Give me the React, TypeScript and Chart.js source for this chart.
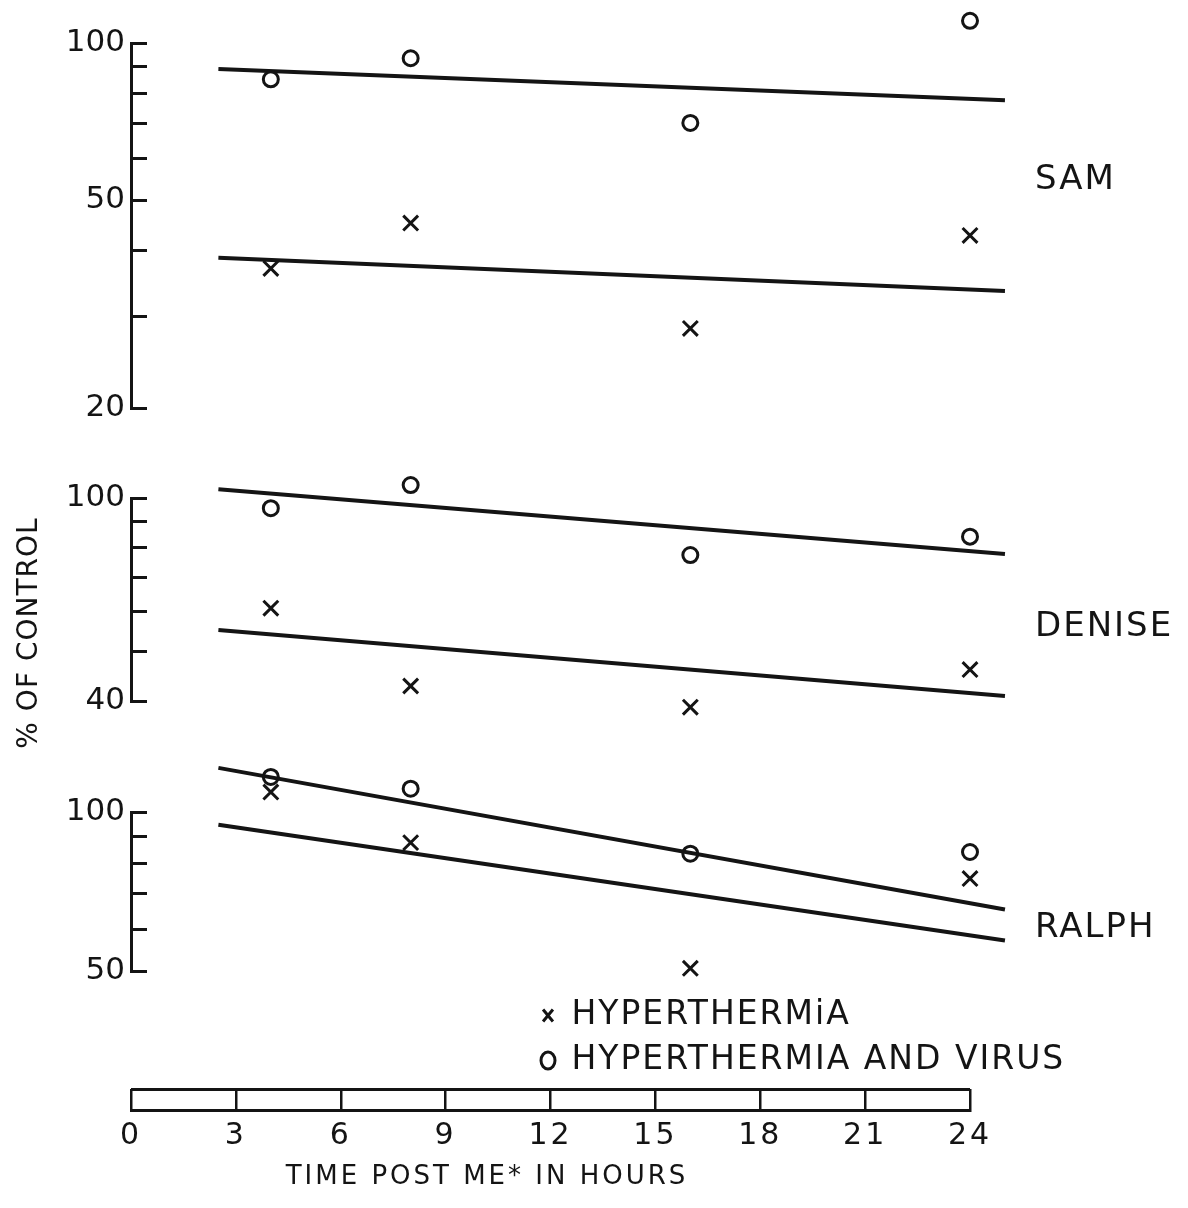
import React, { useEffect, useRef } from 'react';
import { Chart, registerables } from 'chart.js';

Chart.register(...registerables);

// ---------------- data ----------------
const TIMES = [4, 8, 16, 24]; // hours post ME
const FIT_TIMES = [2.5, 25]; // end points of the fitted lines

const SAM_VIRUS = [85.2, 93.5, 70.3, 110.3];
const SAM_HYPER = [37.0, 45.2, 28.4, 42.8];
const SAM_VIRUS_FIT = [89.2, 77.7];
const SAM_HYPER_FIT = [38.8, 33.5];

const DENISE_VIRUS = [95.5, 106.0, 77.3, 84.0];
const DENISE_HYPER = [60.8, 42.8, 38.9, 46.1];
const DENISE_VIRUS_FIT = [104.0, 77.7];
const DENISE_HYPER_FIT = [55.1, 40.9];

const RALPH_VIRUS = [116.5, 110.7, 83.4, 84.0];
const RALPH_HYPER = [109.1, 87.5, 50.6, 74.8];
const RALPH_VIRUS_FIT = [121.2, 65.4];
const RALPH_HYPER_FIT = [94.6, 57.1];

const SAM_TICKS = [20, 30, 40, 50, 60, 70, 80, 90, 100];
const SAM_LABELS = [20, 50, 100];
const DENISE_TICKS = [40, 50, 60, 70, 80, 90, 100];
const DENISE_LABELS = [40, 100];
const RALPH_TICKS = [50, 60, 70, 80, 90, 100];
const RALPH_LABELS = [50, 100];
const X_TICKS = [0, 3, 6, 9, 12, 15, 18, 21, 24];

const PANEL_NAMES = ['SAM', 'DENISE', 'RALPH'];
const SERIES_LABELS = ['HYPERTHERMiA', 'HYPERTHERMIA AND VIRUS'];
const Y_TITLE = '% OF CONTROL';
const X_TITLE = 'TIME POST ME* IN HOURS';

// ---------------- styling / layout ----------------
const INK = '#141414';
const FONT = 'DejaVu Sans';
const PAGE_W = 1188;
const X_LEFT = 131;
const X_RIGHT = 970;

const PANELS = [
  { virus: SAM_VIRUS, hyper: SAM_HYPER, virusFit: SAM_VIRUS_FIT, hyperFit: SAM_HYPER_FIT, ticks: SAM_TICKS, labels: SAM_LABELS },
  { virus: DENISE_VIRUS, hyper: DENISE_HYPER, virusFit: DENISE_VIRUS_FIT, hyperFit: DENISE_HYPER_FIT, ticks: DENISE_TICKS, labels: DENISE_LABELS },
  { virus: RALPH_VIRUS, hyper: RALPH_HYPER, virusFit: RALPH_VIRUS_FIT, hyperFit: RALPH_HYPER_FIT, ticks: RALPH_TICKS, labels: RALPH_LABELS },
];

const PANEL_LAYOUT = [
  { top: 43, bottom: 408, canvasTop: 0, canvasHeight: 440, nameAt: 0.625 },
  { top: 498, bottom: 701, canvasTop: 450, canvasHeight: 290, nameAt: 0.365 },
  { top: 812, bottom: 971, canvasTop: 740, canvasHeight: 250, nameAt: 0.27 },
];

const pts = (xs: number[], ys: number[]) => xs.map((x, i) => ({ x, y: ys[i] }));

function zeroPad(s: any) {
  s.paddingLeft = 0;
  s.paddingRight = 0;
  s.paddingTop = 0;
  s.paddingBottom = 0;
}

// wide-set lettering of the original: set before layout so measurements include it
const spacing = (px: number) => ({
  id: 'letterSpacing' + px,
  beforeUpdate(chart: any) {
    try {
      chart.ctx.letterSpacing = px + 'px';
    } catch (e) {
      /* ignore */
    }
  },
  beforeDraw(chart: any) {
    try {
      chart.ctx.letterSpacing = px + 'px';
    } catch (e) {
      /* ignore */
    }
  },
});

const base = {
  animation: false,
  responsive: false,
  events: [] as string[],
};

function panelDataConfig(i: number) {
  const L = PANEL_LAYOUT[i];
  const P = PANELS[i];
  const minV = Math.min(...P.ticks);
  const maxV = Math.max(...P.ticks);
  return {
    type: 'scatter',
    data: {
      datasets: [
        {
          label: SERIES_LABELS[1],
          data: pts(TIMES, P.virus),
          pointStyle: 'circle',
          pointRadius: 7.5,
          pointHoverRadius: 45, // lets marks above the 100 tick (outside the axis range) still be drawn
          borderWidth: 3,
          borderColor: INK,
          backgroundColor: 'rgba(0,0,0,0)',
          clip: false,
        },
        {
          label: SERIES_LABELS[0],
          data: pts(TIMES, P.hyper),
          pointStyle: 'crossRot',
          pointRadius: 10.5,
          pointHoverRadius: 45,
          borderWidth: 3,
          borderColor: INK,
          backgroundColor: 'rgba(0,0,0,0)',
          clip: false,
        },
        {
          type: 'line',
          label: SERIES_LABELS[1] + ' (fit)',
          data: pts(FIT_TIMES, P.virusFit),
          borderColor: INK,
          borderWidth: 4,
          pointRadius: 0,
          pointHoverRadius: 0,
          fill: false,
          tension: 0,
          clip: false,
        },
        {
          type: 'line',
          label: SERIES_LABELS[0] + ' (fit)',
          data: pts(FIT_TIMES, P.hyperFit),
          borderColor: INK,
          borderWidth: 4,
          pointRadius: 0,
          pointHoverRadius: 0,
          fill: false,
          tension: 0,
          clip: false,
        },
      ],
    },
    options: {
      ...base,
      layout: {
        autoPadding: false,
        padding: {
          left: X_LEFT,
          right: 0,
          top: L.top - L.canvasTop,
          bottom: L.canvasTop + L.canvasHeight - L.bottom,
        },
      },
      plugins: { legend: { display: false }, tooltip: { enabled: false } },
      scales: {
        x: { type: 'linear', display: false, min: 0, max: 24 },
        y: { type: 'logarithmic', display: false, min: minV, max: maxV },
        name: {
          type: 'linear',
          position: 'right',
          min: 0,
          max: 1,
          afterBuildTicks: (sc: any) => {
            sc.ticks = [{ value: L.nameAt }];
          },
          afterFit: (sc: any) => {
            sc.width = PAGE_W - X_RIGHT;
            zeroPad(sc);
          },
          grid: { display: false, drawTicks: false },
          border: { display: false },
          ticks: {
            padding: 65,
            color: INK,
            font: { family: FONT, size: 34 },
            callback: () => PANEL_NAMES[i],
          },
        },
      },
    },
    plugins: [spacing(2)],
  };
}

function panelAxisConfig(i: number) {
  const L = PANEL_LAYOUT[i];
  const P = PANELS[i];
  const minV = Math.min(...P.ticks);
  const maxV = Math.max(...P.ticks);
  return {
    type: 'scatter',
    data: { datasets: [] },
    options: {
      ...base,
      layout: {
        autoPadding: false,
        padding: {
          left: 0,
          right: 3,
          top: L.top - L.canvasTop,
          bottom: L.canvasTop + L.canvasHeight - L.bottom,
        },
      },
      plugins: { legend: { display: false }, tooltip: { enabled: false } },
      scales: {
        x: { type: 'linear', display: false },
        y: {
          type: 'logarithmic',
          position: 'left',
          min: minV,
          max: maxV,
          afterBuildTicks: (sc: any) => {
            sc.ticks = P.ticks.map((v) => ({ value: v }));
          },
          afterFit: (sc: any) => {
            sc.width = X_LEFT;
            zeroPad(sc);
          },
          grid: { display: true, drawOnChartArea: true, drawTicks: false, color: INK, lineWidth: 3 },
          border: { display: true, color: INK, width: 3 },
          ticks: {
            autoSkip: false,
            padding: 6,
            color: INK,
            font: { family: FONT, size: 31 },
            callback: (v: any) => (P.labels.includes(Number(v)) ? String(v) : ''),
          },
        },
      },
    },
  };
}

function yTitleConfig() {
  return {
    type: 'scatter',
    data: { datasets: [] },
    options: {
      ...base,
      plugins: {
        legend: { display: false },
        tooltip: { enabled: false },
        title: {
          display: true,
          position: 'left',
          text: Y_TITLE,
          color: INK,
          font: { family: FONT, size: 28, weight: 'normal' },
          padding: { top: 13, bottom: 0 },
        },
      },
      scales: { x: { display: false }, y: { display: false } },
    },
    plugins: [spacing(1)],
  };
}

function legendConfig() {
  return {
    type: 'scatter',
    data: {
      datasets: [
        { label: SERIES_LABELS[0], data: [], pointStyle: 'crossRot', borderColor: INK, backgroundColor: 'rgba(0,0,0,0)', borderWidth: 3 },
        { label: SERIES_LABELS[1], data: [], pointStyle: 'circle', borderColor: INK, backgroundColor: 'rgba(0,0,0,0)', borderWidth: 3 },
      ],
    },
    options: {
      ...base,
      plugins: {
        tooltip: { enabled: false },
        legend: {
          display: true,
          position: 'left',
          align: 'start',
          labels: {
            usePointStyle: true,
            pointStyleWidth: 14,
            boxHeight: 12,
            padding: 12,
            color: INK,
            font: { family: FONT, size: 33 },
          },
        },
      },
      scales: { x: { display: false }, y: { display: false } },
    },
    plugins: [spacing(2)],
  };
}

function rulerConfig() {
  return {
    type: 'scatter',
    data: { datasets: [] },
    options: {
      ...base,
      layout: { padding: { left: 4, right: PAGE_W - X_RIGHT, top: 29, bottom: 14 } },
      plugins: {
        legend: { display: false },
        tooltip: { enabled: false },
        title: {
          display: true,
          position: 'bottom',
          text: X_TITLE,
          color: INK,
          font: { family: FONT, size: 26, weight: 'normal' },
          padding: 0,
        },
      },
      scales: {
        x: {
          type: 'linear',
          position: 'bottom',
          min: 0,
          max: 24,
          afterBuildTicks: (sc: any) => {
            sc.ticks = X_TICKS.map((v) => ({ value: v }));
          },
          afterFit: (sc: any) => {
            sc.height = 51;
            zeroPad(sc);
          },
          grid: { display: true, drawOnChartArea: true, drawTicks: false, color: INK, lineWidth: 2.5 },
          border: { display: true, color: INK, width: 3 },
          ticks: { autoSkip: false, maxRotation: 0, padding: 7, color: INK, font: { family: FONT, size: 30 } },
        },
        y: {
          type: 'linear',
          position: 'left',
          min: 0,
          max: 1,
          afterBuildTicks: (sc: any) => {
            sc.ticks = [{ value: 0 }, { value: 1 }];
          },
          afterFit: (sc: any) => {
            sc.width = X_LEFT - 4;
            zeroPad(sc);
          },
          grid: { display: true, drawTicks: false, color: INK, lineWidth: 3 },
          border: { display: false },
          ticks: { display: false },
        },
      },
    },
    plugins: [spacing(3)],
  };
}

type Spec = { left: number; top: number; width: number; height: number; make: () => any };

const SPECS: Spec[] = [
  ...PANEL_LAYOUT.map((L, i) => ({ left: 0, top: L.canvasTop, width: X_LEFT + 19, height: L.canvasHeight, make: () => panelAxisConfig(i) })),
  ...PANEL_LAYOUT.map((L, i) => ({ left: 0, top: L.canvasTop, width: PAGE_W, height: L.canvasHeight, make: () => panelDataConfig(i) })),
  { left: 0, top: 433, width: 64, height: 400, make: yTitleConfig },
  { left: 529, top: 987, width: 1200, height: 110, make: legendConfig },
  { left: 0, top: 1060, width: PAGE_W, height: 147, make: rulerConfig },
];

export default function App() {
  const refs = useRef<(HTMLCanvasElement | null)[]>([]);

  useEffect(() => {
    Chart.defaults.font.family = FONT;
    const charts = SPECS.map((s, i) => new Chart(refs.current[i] as HTMLCanvasElement, s.make()));
    return () => charts.forEach((c) => c.destroy());
  }, []);

  return (
    <div
      style={{
        position: 'fixed',
        left: 0,
        top: 0,
        width: PAGE_W,
        height: 1208,
        background: '#ffffff',
        overflow: 'hidden',
      }}
    >
      {SPECS.map((s, i) => (
        <canvas
          key={i}
          ref={(el) => {
            refs.current[i] = el;
          }}
          width={s.width}
          height={s.height}
          style={{ position: 'absolute', left: s.left, top: s.top }}
        />
      ))}
    </div>
  );
}
